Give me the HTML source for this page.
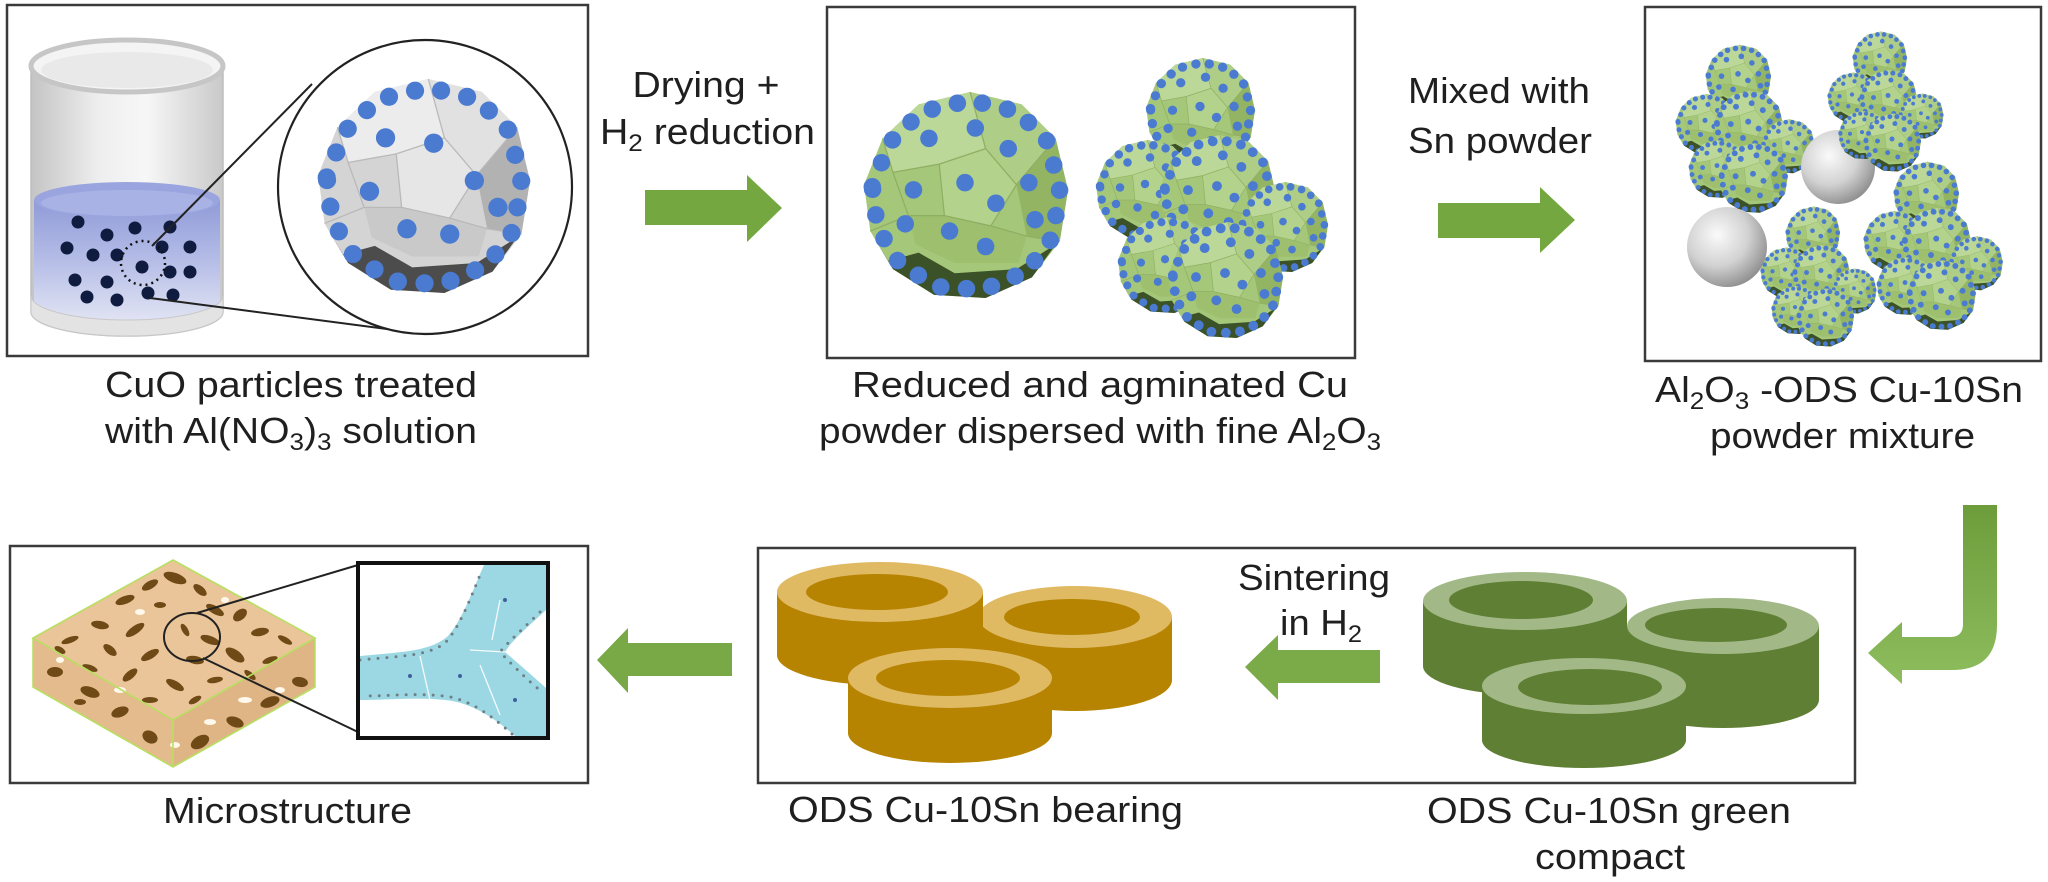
<!DOCTYPE html>
<html><head><meta charset="utf-8"><style>
html,body{margin:0;padding:0;background:#fff;}
svg{display:block;}
text{font-family:"Liberation Sans",Arial,sans-serif;fill:#1f1f1f;font-size:36px;}
</style></head><body>
<svg width="2048" height="882" viewBox="0 0 2048 882" xmlns="http://www.w3.org/2000/svg">
<defs>
<linearGradient id="glass" x1="0" y1="0" x2="1" y2="0">
<stop offset="0" stop-color="#c4c4c4"/><stop offset=".35" stop-color="#eeeeee"/><stop offset=".6" stop-color="#f7f7f7"/><stop offset="1" stop-color="#c9c9c9"/></linearGradient>
<linearGradient id="liq" x1="0" y1="0" x2="0" y2="1">
<stop offset="0" stop-color="#8f9bd8"/><stop offset=".45" stop-color="#b3bbe6"/><stop offset="1" stop-color="#e6e8f5"/></linearGradient>
<radialGradient id="sph" cx=".38" cy=".35" r=".7">
<stop offset="0" stop-color="#fafafa"/><stop offset=".55" stop-color="#d2d2d2"/><stop offset="1" stop-color="#8c8c8c"/></radialGradient>
<linearGradient id="bent" x1="0" y1="0" x2="0" y2="1">
<stop offset="0" stop-color="#6d9d3b"/><stop offset="1" stop-color="#8dbd5d"/></linearGradient>
<clipPath id="slabclip"><polygon points="173,560 315,638 315,687 173,767 33,687 33,638"/></clipPath>

<g id="gp">
<polygon points="-98,-10 -80,-55 -45,-88 5,-100 55,-88 88,-55 100,-5 92,45 65,80 20,100 -30,97 -70,72 -92,35" fill="#a5c779"/>
<polygon points="-80,-55 -45,-88 5,-100 20,-45 -25,-30 -70,-22" fill="#bcd898"/>
<polygon points="-25,-30 20,-45 50,-10 25,30 -20,20" fill="#b3d28b"/>
<polygon points="20,-45 5,-100 55,-88 88,-55 50,-10" fill="#aecd86"/>
<polygon points="50,-10 88,-55 100,-5 92,45 60,40" fill="#92b463"/>
<polygon points="-55,20 -20,20 25,30 60,40 52,66 -10,66 -48,48" fill="#9dbf6e"/>
<polygon points="-92,35 -75,64 -45,56 -10,76 50,72 88,48 65,80 20,100 -30,97 -70,72" fill="#3b5127"/>
<g stroke="#8fae62" stroke-width="1.2" fill="none"><polyline points="-70,-22 -25,-30 20,-45 50,-10 25,30 -20,20 -25,-30"/><polyline points="20,-45 5,-100"/><polyline points="50,-10 88,-55"/><polyline points="25,30 60,40 92,45"/><polyline points="-20,20 -55,20 -70,-22 -80,-55"/><polyline points="-55,20 -92,35"/></g>
<path d="M-90,-8 L-74,-50 L-42,-81 L5,-92 L51,-81 L81,-51 L92,-4 L85,41 L60,74 L18,92 L-28,89 L-64,66 L-85,32 Z" fill="none" stroke="#4a7bd0" stroke-width="17" stroke-linecap="round" stroke-dasharray="0 25"/>
<g fill="#4a7bd0"><circle cx="-35" cy="-55" r="8.5"/><circle cx="10" cy="-65" r="8.5"/><circle cx="-50" cy="-5" r="8.5"/><circle cx="0" cy="-12" r="8.5"/><circle cx="42" cy="-45" r="8.5"/><circle cx="-15" cy="35" r="8.5"/><circle cx="30" cy="8" r="8.5"/><circle cx="62" cy="-12" r="8.5"/><circle cx="68" cy="24" r="8.5"/><circle cx="20" cy="50" r="8.5"/><circle cx="-58" cy="28" r="8.5"/></g>
</g>

<g id="gg">
<polygon points="-98,-10 -80,-55 -45,-88 5,-100 55,-88 88,-55 100,-5 92,45 65,80 20,100 -30,97 -70,72 -92,35" fill="#d4d4d4"/>
<polygon points="-80,-55 -45,-88 5,-100 20,-45 -25,-30 -70,-22" fill="#ececec"/>
<polygon points="-25,-30 20,-45 50,-10 25,30 -20,20" fill="#e6e6e6"/>
<polygon points="20,-45 5,-100 55,-88 88,-55 50,-10" fill="#e1e1e1"/>
<polygon points="50,-10 88,-55 100,-5 92,45 60,40" fill="#b2b2b2"/>
<polygon points="-55,20 -20,20 25,30 60,40 52,66 -10,66 -48,48" fill="#c9c9c9"/>
<polygon points="-92,35 -75,64 -45,56 -10,76 50,72 88,48 65,80 20,100 -30,97 -70,72" fill="#4c4c4c"/>
<g stroke="#b9b9b9" stroke-width="1.2" fill="none"><polyline points="-70,-22 -25,-30 20,-45 50,-10 25,30 -20,20 -25,-30"/><polyline points="20,-45 5,-100"/><polyline points="50,-10 88,-55"/><polyline points="25,30 60,40 92,45"/><polyline points="-20,20 -55,20 -70,-22 -80,-55"/><polyline points="-55,20 -92,35"/></g>
<path d="M-90,-8 L-74,-50 L-42,-81 L5,-92 L51,-81 L81,-51 L92,-4 L85,41 L60,74 L18,92 L-28,89 L-64,66 L-85,32 Z" fill="none" stroke="#4a7bd0" stroke-width="17" stroke-linecap="round" stroke-dasharray="0 25"/>
<g fill="#4a7bd0"><circle cx="-35" cy="-45" r="9"/><circle cx="10" cy="-40" r="9"/><circle cx="-50" cy="5" r="9"/><circle cx="48" cy="-5" r="9"/><circle cx="-15" cy="40" r="9"/><circle cx="25" cy="45" r="9"/><circle cx="70" cy="20" r="9"/></g>
</g>

<g id="agg">
<use href="#gp" transform="translate(105,58) scale(.55)"/>
<use href="#gp" transform="translate(50,135) scale(.5)"/>
<use href="#gp" transform="translate(122,138) scale(.58)"/>
<use href="#gp" transform="translate(188,172) scale(.45)"/>
<use href="#gp" transform="translate(70,210) scale(.48)"/>
<use href="#gp" transform="translate(130,225) scale(.58)"/>
</g>
</defs>

<rect width="2048" height="882" fill="#fff"/>

<!-- ===== Box 1 ===== -->
<rect x="7" y="5" width="581" height="351" fill="#fff" stroke="#3a3a3a" stroke-width="2.5"/>
<!-- beaker -->
<path d="M31,66 L31,312 A96,24 0 0 0 223,312 L223,66 Z" fill="url(#glass)" stroke="#bdbdbd" stroke-width="1.5"/>
<path d="M34,200 L34,306 A93,22 0 0 0 220,306 L220,200 Z" fill="url(#liq)"/>
<ellipse cx="127" cy="200" rx="93" ry="18" fill="#9aa5df"/>
<ellipse cx="127" cy="203" rx="86" ry="13" fill="#a9b2e4"/>
<path d="M31,296 A96,24 0 0 0 223,296 L223,312 A96,24 0 0 1 31,312 Z" fill="#e3e3e3" stroke="#c8c8c8" stroke-width="1"/>
<ellipse cx="127" cy="66" rx="96" ry="26" fill="#f4f4f4" stroke="#c6c6c6" stroke-width="5"/>
<ellipse cx="127" cy="70" rx="86" ry="18" fill="#e9e9e9"/>
<g fill="#0f1c40">
<circle cx="78" cy="222" r="6.5"/><circle cx="107" cy="235" r="6.5"/><circle cx="135" cy="228" r="6.5"/><circle cx="170" cy="227" r="6.5"/>
<circle cx="67" cy="248" r="6.5"/><circle cx="93" cy="255" r="6.5"/><circle cx="117" cy="255" r="6.5"/><circle cx="162" cy="247" r="6.5"/><circle cx="190" cy="247" r="6.5"/>
<circle cx="142" cy="267" r="6.5"/><circle cx="170" cy="272" r="6.5"/><circle cx="190" cy="272" r="6.5"/>
<circle cx="75" cy="280" r="6.5"/><circle cx="107" cy="282" r="6.5"/><circle cx="87" cy="297" r="6.5"/><circle cx="117" cy="300" r="6.5"/><circle cx="148" cy="293" r="6.5"/><circle cx="173" cy="295" r="6.5"/>
</g>
<circle cx="143" cy="263" r="22" fill="none" stroke="#111" stroke-width="2.5" stroke-dasharray="2 4"/>
<line x1="152" y1="246" x2="312" y2="84" stroke="#222" stroke-width="2"/>
<line x1="150" y1="298" x2="417" y2="333" stroke="#222" stroke-width="2"/>
<circle cx="425" cy="187" r="147" fill="#fff" stroke="#222" stroke-width="2.2"/>
<use href="#gg" transform="translate(423,186) scale(1.07)"/>

<!-- Drying text + arrow -->
<text x="706" y="97" text-anchor="middle" textLength="147" lengthAdjust="spacingAndGlyphs">Drying +</text>
<text x="600" y="144" textLength="215" lengthAdjust="spacingAndGlyphs">H<tspan font-size="24" dy="7">2</tspan><tspan dy="-7"> reduction</tspan></text>
<polygon points="645,190 747,190 747,175 782,208 747,242 747,225 645,225" fill="#75a741"/>

<!-- ===== Box 2 ===== -->
<rect x="827" y="7" width="528" height="351" fill="#fff" stroke="#3a3a3a" stroke-width="2.5"/>
<use href="#gp" transform="translate(965,195) scale(1.03)"/>
<use href="#agg" transform="translate(1095,55)"/>

<!-- Mixed text + arrow -->
<text x="1408" y="103" textLength="182" lengthAdjust="spacingAndGlyphs">Mixed  with</text>
<text x="1408" y="153" textLength="184" lengthAdjust="spacingAndGlyphs">Sn powder</text>
<polygon points="1438,203 1540,203 1540,187 1575,220 1540,253 1540,238 1438,238" fill="#75a741"/>

<!-- ===== Box 3 ===== -->
<rect x="1645" y="7" width="396" height="354" fill="#fff" stroke="#3a3a3a" stroke-width="2.5"/>
<use href="#agg" transform="translate(1675,43) scale(.6)"/>
<circle cx="1838" cy="167" r="37" fill="url(#sph)"/>
<use href="#agg" transform="translate(1827,30) scale(.5)"/>
<circle cx="1727" cy="247" r="40" fill="url(#sph)"/>
<use href="#agg" transform="translate(1863,160) scale(.6)"/>
<use href="#agg" transform="translate(1760,205) scale(.5)"/>

<!-- top captions -->
<text x="291" y="397" text-anchor="middle" textLength="372" lengthAdjust="spacingAndGlyphs">CuO particles treated</text>
<text x="291" y="443" text-anchor="middle" textLength="372" lengthAdjust="spacingAndGlyphs">with Al(NO<tspan font-size="24" dy="7">3</tspan><tspan dy="-7">)</tspan><tspan font-size="24" dy="7">3</tspan><tspan dy="-7"> solution</tspan></text>
<text x="1100" y="397" text-anchor="middle" textLength="496" lengthAdjust="spacingAndGlyphs">Reduced  and  agminated  Cu</text>
<text x="1100" y="443" text-anchor="middle" textLength="562" lengthAdjust="spacingAndGlyphs">powder dispersed with fine Al<tspan font-size="24" dy="7">2</tspan><tspan dy="-7">O</tspan><tspan font-size="24" dy="7">3</tspan></text>
<text x="1655" y="402" textLength="368" lengthAdjust="spacingAndGlyphs">Al<tspan font-size="24" dy="7">2</tspan><tspan dy="-7">O</tspan><tspan font-size="24" dy="7">3</tspan><tspan dy="-7"> -ODS Cu-10Sn</tspan></text>
<text x="1710" y="448" textLength="265" lengthAdjust="spacingAndGlyphs">powder  mixture</text>

<!-- bent arrow -->
<path d="M1963,505 L1997,505 L1997,625 Q1997,670 1952,670 L1902,670 L1902,684 L1868,653 L1902,622 L1902,637 L1950,637 Q1963,637 1963,624 Z" fill="url(#bent)"/>

<!-- ===== Box 4 (microstructure) ===== -->
<rect x="10" y="546" width="578" height="237" fill="#fff" stroke="#3a3a3a" stroke-width="2.5"/>
<g clip-path="url(#slabclip)">
<polygon points="173,560 315,638 173,720 33,638" fill="#eac599"/>
<polygon points="33,638 173,720 173,767 33,687" fill="#e4bb8c"/>
<polygon points="173,720 315,638 315,687 173,767" fill="#dfb585"/>
<g fill="#6f4a16">
<ellipse cx="150" cy="585" rx="9" ry="4" transform="rotate(-30 150 585)"/><ellipse cx="175" cy="578" rx="12" ry="5" transform="rotate(20 175 578)"/><ellipse cx="200" cy="590" rx="8" ry="4" transform="rotate(40 200 590)"/><ellipse cx="125" cy="600" rx="10" ry="4" transform="rotate(-20 125 600)"/><ellipse cx="160" cy="605" rx="6" ry="3"/><ellipse cx="215" cy="610" rx="10" ry="4" transform="rotate(30 215 610)"/><ellipse cx="240" cy="615" rx="8" ry="5" transform="rotate(-40 240 615)"/><ellipse cx="100" cy="625" rx="9" ry="4" transform="rotate(10 100 625)"/><ellipse cx="135" cy="630" rx="11" ry="4" transform="rotate(-35 135 630)"/><ellipse cx="185" cy="630" rx="7" ry="3" transform="rotate(60 185 630)"/><ellipse cx="210" cy="640" rx="10" ry="4" transform="rotate(20 210 640)"/><ellipse cx="260" cy="632" rx="9" ry="4" transform="rotate(-10 260 632)"/><ellipse cx="285" cy="640" rx="8" ry="3" transform="rotate(30 285 640)"/><ellipse cx="70" cy="640" rx="9" ry="3" transform="rotate(-20 70 640)"/><ellipse cx="110" cy="650" rx="8" ry="4" transform="rotate(40 110 650)"/><ellipse cx="150" cy="655" rx="10" ry="4" transform="rotate(-30 150 655)"/><ellipse cx="195" cy="660" rx="9" ry="4" transform="rotate(10 195 660)"/><ellipse cx="235" cy="655" rx="11" ry="5" transform="rotate(35 235 655)"/><ellipse cx="270" cy="660" rx="8" ry="3" transform="rotate(-20 270 660)"/><ellipse cx="90" cy="668" rx="8" ry="3" transform="rotate(20 90 668)"/><ellipse cx="130" cy="675" rx="9" ry="4" transform="rotate(-40 130 675)"/><ellipse cx="175" cy="685" rx="10" ry="4" transform="rotate(30 175 685)"/><ellipse cx="215" cy="680" rx="8" ry="3" transform="rotate(-10 215 680)"/><ellipse cx="250" cy="675" rx="7" ry="3" transform="rotate(40 250 675)"/><ellipse cx="150" cy="700" rx="8" ry="3"/><ellipse cx="195" cy="700" rx="7" ry="3" transform="rotate(-30 195 700)"/><ellipse cx="60" cy="650" rx="6" ry="3" transform="rotate(30 60 650)"/>
<ellipse cx="55" cy="672" rx="8" ry="5"/><ellipse cx="90" cy="692" rx="10" ry="5" transform="rotate(20 90 692)"/><ellipse cx="120" cy="712" rx="9" ry="5" transform="rotate(-20 120 712)"/><ellipse cx="150" cy="737" rx="8" ry="6" transform="rotate(30 150 737)"/><ellipse cx="200" cy="742" rx="10" ry="6" transform="rotate(-30 200 742)"/><ellipse cx="235" cy="722" rx="9" ry="5" transform="rotate(20 235 722)"/><ellipse cx="270" cy="702" rx="10" ry="5" transform="rotate(-20 270 702)"/><ellipse cx="300" cy="682" rx="8" ry="5" transform="rotate(10 300 682)"/><ellipse cx="250" cy="737" rx="6" ry="4"/><ellipse cx="80" cy="702" rx="6" ry="3"/>
</g>
<g fill="#fff8ec"><ellipse cx="140" cy="612" rx="5" ry="3"/><ellipse cx="225" cy="600" rx="4" ry="3"/><ellipse cx="120" cy="690" rx="6" ry="3"/><ellipse cx="210" cy="722" rx="6" ry="3"/><ellipse cx="245" cy="700" rx="7" ry="3"/><ellipse cx="280" cy="690" rx="5" ry="3"/><ellipse cx="60" cy="660" rx="4" ry="3"/><ellipse cx="175" cy="745" rx="5" ry="3"/></g>
</g>
<g fill="none" stroke="#b8df62" stroke-width="1.6">
<polygon points="173,560 315,638 173,720 33,638"/><polyline points="33,638 33,687 173,767 315,687 315,638"/><line x1="173" y1="720" x2="173" y2="767"/>
</g>
<ellipse cx="192" cy="637" rx="28" ry="24" fill="none" stroke="#222" stroke-width="2"/>
<line x1="197" y1="613" x2="358" y2="565" stroke="#222" stroke-width="2"/>
<line x1="203" y1="658" x2="358" y2="732" stroke="#222" stroke-width="2"/>
<rect x="358" y="563" width="190" height="175" fill="#fff"/>
<path d="M360,656 C400,652 430,652 448,636 C462,620 472,592 484,565 L546,565 L546,610 C530,625 512,640 505,652 C520,665 535,678 546,688 L546,736 L515,736 C495,718 470,702 445,700 C415,697 390,700 360,700 Z" fill="#9bd8e3"/>
<g fill="none" stroke="#f4fbfd" stroke-width="1.3"><path d="M420,656 L430,700"/><path d="M470,650 L505,652"/><path d="M500,600 L492,640"/><path d="M480,665 L500,715"/></g>
<path d="M360,660 C400,656 430,656 446,642 C460,626 470,600 482,570 M540,612 C525,627 510,640 500,652 C515,668 530,682 542,692 M512,734 C492,716 468,698 443,696 C415,693 390,696 362,696" fill="none" stroke="#6f7f86" stroke-width="3" stroke-linecap="round" stroke-dasharray="0 9"/>
<g fill="#3f5f9a"><circle cx="410" cy="676" r="2"/><circle cx="460" cy="676" r="2"/><circle cx="505" cy="600" r="2"/><circle cx="515" cy="700" r="2"/></g>
<rect x="358" y="563" width="190" height="175" fill="none" stroke="#111" stroke-width="4"/>
<text x="163" y="823" textLength="249" lengthAdjust="spacingAndGlyphs">Microstructure</text>

<polygon points="732,643 628,643 628,628 597,660 628,693 628,676 732,676" fill="#78a946"/>

<!-- ===== Box 5 ===== -->
<rect x="758" y="548" width="1097" height="235" fill="#fff" stroke="#3a3a3a" stroke-width="2.5"/>
<!-- yellow bearings -->
<g>
<path d="M978,617 L978,680 A97,31 0 0 0 1172,680 L1172,617 Z" fill="#b68400"/>
<ellipse cx="1075" cy="617" rx="97" ry="31" fill="#e0b963"/>
<ellipse cx="1072" cy="617" rx="68" ry="18" fill="#b68400"/>
</g>
<g>
<path d="M777,592 L777,655 A103,30 0 0 0 983,655 L983,592 Z" fill="#b68400"/>
<ellipse cx="880" cy="592" rx="103" ry="30" fill="#e0b963"/>
<ellipse cx="877" cy="592" rx="71" ry="18" fill="#b68400"/>
</g>
<g>
<path d="M848,678 L848,733 A102,30 0 0 0 1052,733 L1052,678 Z" fill="#b68400"/>
<ellipse cx="950" cy="678" rx="102" ry="30" fill="#e0b963"/>
<ellipse cx="948" cy="678" rx="72" ry="18" fill="#b68400"/>
</g>
<text x="1238" y="590" textLength="152" lengthAdjust="spacingAndGlyphs">Sintering</text>
<text x="1280" y="635" textLength="82" lengthAdjust="spacingAndGlyphs">in H<tspan font-size="24" dy="7">2</tspan></text>
<polygon points="1380,650 1278,650 1278,635 1245,667 1278,700 1278,683 1380,683" fill="#7aab48"/>
<!-- green compacts -->
<g>
<path d="M1627,626 L1627,700 A96,28 0 0 0 1819,700 L1819,626 Z" fill="#5f7f34"/>
<ellipse cx="1723" cy="626" rx="96" ry="28" fill="#a2b987"/>
<ellipse cx="1716" cy="625" rx="71" ry="17" fill="#5f7f34"/>
</g>
<g>
<path d="M1423,601 L1423,666 A102,29 0 0 0 1627,666 L1627,601 Z" fill="#5f7f34"/>
<ellipse cx="1525" cy="601" rx="102" ry="29" fill="#a2b987"/>
<ellipse cx="1521" cy="600" rx="72" ry="19" fill="#5f7f34"/>
</g>
<g>
<path d="M1482,686 L1482,740 A102,28 0 0 0 1686,740 L1686,686 Z" fill="#5f7f34"/>
<ellipse cx="1584" cy="686" rx="102" ry="28" fill="#a2b987"/>
<ellipse cx="1590" cy="687" rx="72" ry="18" fill="#5f7f34"/>
</g>
<text x="788" y="822" textLength="395" lengthAdjust="spacingAndGlyphs">ODS  Cu-10Sn  bearing</text>
<text x="1427" y="823" textLength="364" lengthAdjust="spacingAndGlyphs">ODS  Cu-10Sn  green</text>
<text x="1535" y="869" textLength="150" lengthAdjust="spacingAndGlyphs">compact</text>
</svg>
</body></html>
